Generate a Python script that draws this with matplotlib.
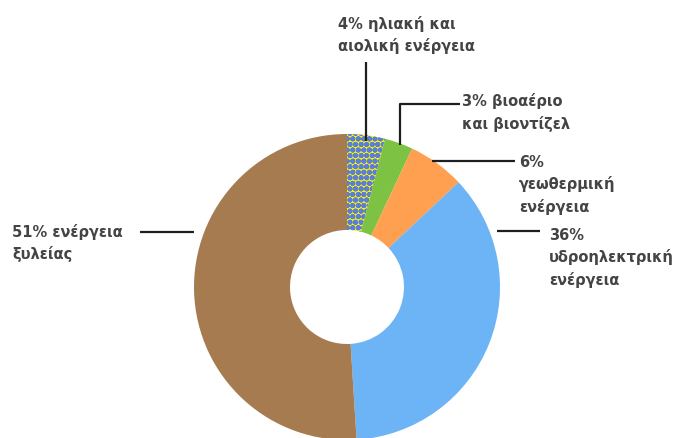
import matplotlib

matplotlib.use("Agg")

import matplotlib.pyplot as plt

# energy shares, clockwise from the top
labels = [
    "4% ηλιακή και\nαιολική ενέργεια",
    "3% βιοαέριο\nκαι βιοντίζελ",
    "6%\nγεωθερμική\nενέργεια",
    "36%\nυδροηλεκτρική\nενέργεια",
    "51% ενέργεια\nξυλείας",
]
shares = [4, 3, 6, 36, 51]
colors = ["#fff200", "#7dc242", "#ff9f50", "#6cb4f5", "#a77b50"]

W, H = 677, 439
fig = plt.figure(figsize=(W / 100, H / 100), dpi=100)
ax = fig.add_axes([0, 0, 1, 1])

plt.rcParams["hatch.color"] = "#5a7fd8"
plt.rcParams["hatch.linewidth"] = 2.0

cx, cy, r_out, r_in = 347, 288, 153, 57
wedges, _ = ax.pie(
    shares,
    colors=colors,
    startangle=-90,
    counterclock=True,  # y axis is flipped below, so this runs clockwise on screen
    radius=r_out,
    center=(cx, cy),
    wedgeprops=dict(width=r_out - r_in, linewidth=0),
    frame=False,
)
wedges[0].set_hatch("ooo")
ax.set_xlim(0, W)
ax.set_ylim(H, 0)  # pixel coordinates, y down
ax.set_aspect("equal")
ax.axis("off")

line_kw = dict(color="#1e1e1e", linewidth=1.6, solid_capstyle="butt")
# leader lines
ax.plot([366, 366], [63, 142], **line_kw)
ax.plot([400, 400, 460], [146, 105, 105], **line_kw)
ax.plot([432, 515], [162, 162], **line_kw)
ax.plot([497, 540], [232, 232], **line_kw)
ax.plot([140, 194], [233, 233], **line_kw)

text_kw = dict(fontsize=10.5, color="#444444", va="top", ha="left",
               linespacing=1.5, family="DejaVu Sans", fontweight="bold")
positions = [(338, 16), (462, 93), (519, 155), (549, 228), (12, 224)]
for (tx, ty), lab in zip(positions, labels):
    ax.text(tx, ty, lab, **text_kw)

fig.savefig("out.png", dpi=100)
